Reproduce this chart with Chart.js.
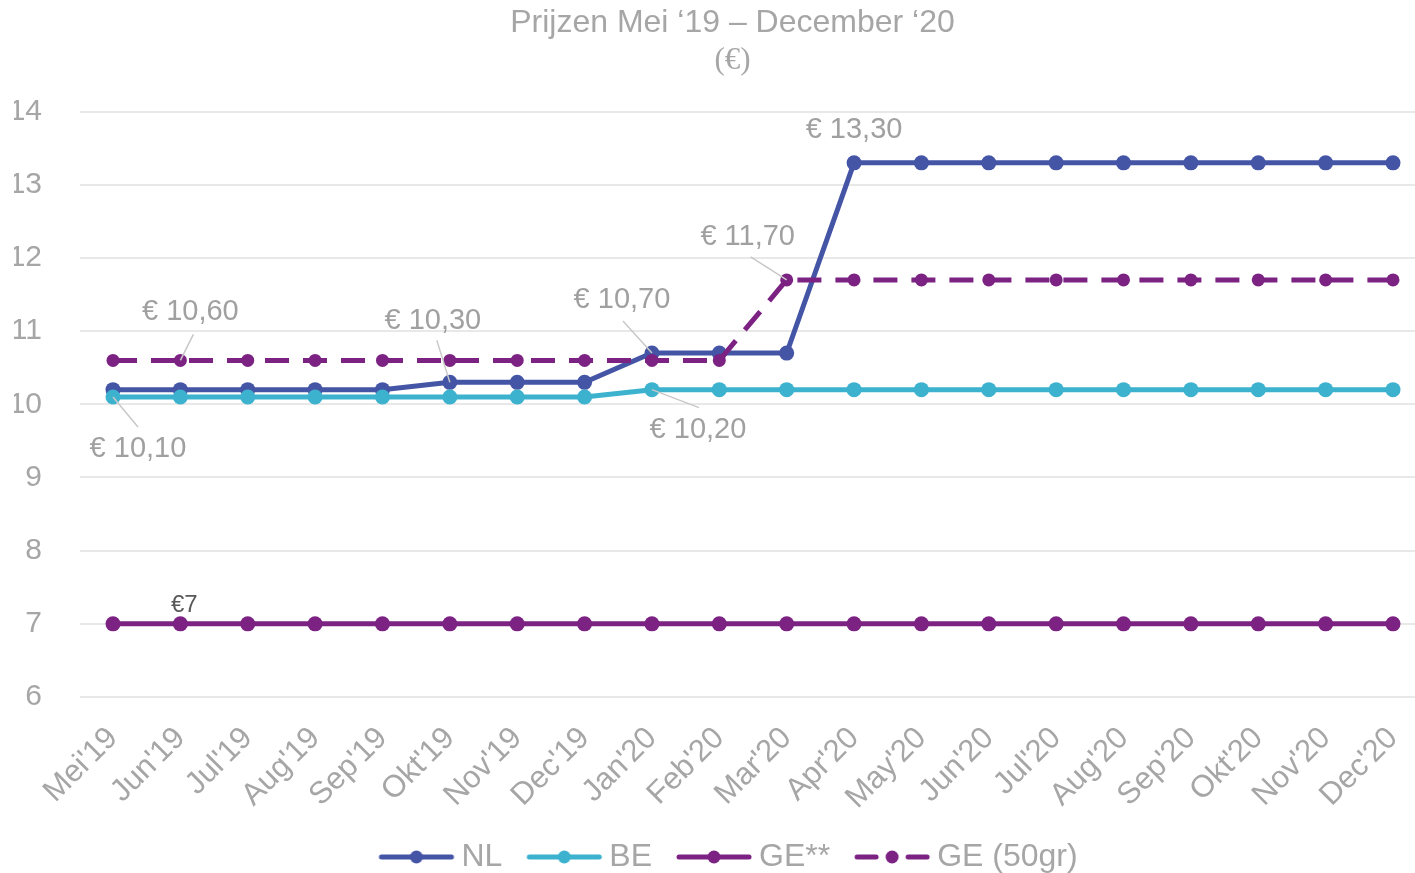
<!DOCTYPE html>
<html>
<head>
<meta charset="utf-8">
<script src="https://cdn.jsdelivr.net/npm/chart.js@4.4.1/dist/chart.umd.min.js"></script>
<style>
  html, body { margin: 0; padding: 0; background: #fff; }
  #wrap { width: 1415px; height: 873px; position: relative; }
</style>
</head>
<body>
<div id="wrap"><canvas id="priceChart"></canvas></div>
<script>
const months = ["Mei'19", "Jun'19", "Jul'19", "Aug'19", "Sep'19", "Okt'19", "Nov'19", "Dec'19",
  "Jan'20", "Feb'20", "Mar'20", "Apr'20", "May'20", "Jun'20", "Jul'20", "Aug'20",
  "Sep'20", "Okt'20", "Nov'20", "Dec'20"];
const nlPrices = [10.2, 10.2, 10.2, 10.2, 10.2, 10.3, 10.3, 10.3, 10.7, 10.7, 10.7,
  13.3, 13.3, 13.3, 13.3, 13.3, 13.3, 13.3, 13.3, 13.3];
const bePrices = [10.1, 10.1, 10.1, 10.1, 10.1, 10.1, 10.1, 10.1, 10.2, 10.2, 10.2,
  10.2, 10.2, 10.2, 10.2, 10.2, 10.2, 10.2, 10.2, 10.2];
const gePrices = [7, 7, 7, 7, 7, 7, 7, 7, 7, 7, 7, 7, 7, 7, 7, 7, 7, 7, 7, 7];
const ge50Prices = [10.6, 10.6, 10.6, 10.6, 10.6, 10.6, 10.6, 10.6, 10.6, 10.6, 11.7,
  11.7, 11.7, 11.7, 11.7, 11.7, 11.7, 11.7, 11.7, 11.7];
const yTicks = [6, 7, 8, 9, 10, 11, 12, 13, 14];

const GREY = "#a6a6a6";
const FONT = "'Liberation Sans', Arial, sans-serif";

// labels next to points: dataset index, point index, label offset, leader line end
const notes = [
  { ds: 3, i: 1, dx: 10, dy: -48, line: [13, -26] },
  { ds: 1, i: 0, dx: 25, dy: 52, line: [25, 30] },
  { ds: 0, i: 5, dx: -17, dy: -61, line: [-13, -42] },
  { ds: 0, i: 8, dx: -30, dy: -53, line: [-29, -32] },
  { ds: 1, i: 8, dx: 46, dy: 40, line: [47, 18] },
  { ds: 3, i: 10, dx: -39, dy: -43, line: [-36, -23] },
  { ds: 0, i: 11, dx: 0, dy: -33 },
  { ds: 2, i: 1, dx: 4, dy: -18, small: true },
];

const euro = (v) => "€ " + v.toFixed(2).replace(".", ",");

function legendIcon(color, dashed) {
  const c = document.createElement("canvas");
  c.width = 80; c.height = 16;
  const g = c.getContext("2d");
  g.strokeStyle = color; g.fillStyle = color;
  g.lineWidth = 5; g.lineCap = "round";
  g.beginPath();
  if (dashed) {
    g.moveTo(5, 8); g.lineTo(24, 8);
    g.moveTo(56, 8); g.lineTo(75, 8);
  } else {
    g.moveTo(5, 8); g.lineTo(75, 8);
  }
  g.stroke();
  g.beginPath(); g.arc(40, 8, 6.5, 0, Math.PI * 2); g.fill();
  return c;
}

const wideGrid = {
  id: "wideGrid",
  beforeDatasetsDraw(chart) {
    const { ctx, scales: { y } } = chart;
    ctx.save();
    ctx.strokeStyle = "#e8e8e8";
    ctx.lineWidth = 2;
    y.ticks.forEach((t) => {
      const py = Math.round(y.getPixelForValue(t.value));
      ctx.beginPath();
      ctx.moveTo(80, py);
      ctx.lineTo(chart.width, py);
      ctx.stroke();
    });
    ctx.restore();
  },
};

const pointNotes = {
  id: "pointNotes",
  afterDatasetsDraw(chart) {
    const { ctx } = chart;
    ctx.save();
    notes.forEach((n) => {
      const pt = chart.getDatasetMeta(n.ds).data[n.i];
      const v = chart.data.datasets[n.ds].data[n.i];
      if (n.line) {
        ctx.strokeStyle = "#c8c8c8";
        ctx.lineWidth = 1.5;
        ctx.beginPath();
        ctx.moveTo(pt.x, pt.y);
        ctx.lineTo(pt.x + n.line[0], pt.y + n.line[1]);
        ctx.stroke();
      }
      ctx.textAlign = "center";
      ctx.textBaseline = "middle";
      if (n.small) {
        ctx.font = "24px " + FONT;
        ctx.fillStyle = "#595959";
        ctx.fillText("€" + v, pt.x + n.dx, pt.y + n.dy);
      } else {
        ctx.font = "29px " + FONT;
        ctx.fillStyle = "#a0a0a0";
        ctx.fillText(euro(v), pt.x + n.dx, pt.y + n.dy);
      }
    });
    ctx.restore();
  },
};

const ctx = document.getElementById("priceChart").getContext("2d");
new Chart(ctx, {
  type: "line",
  data: {
    labels: months,
    datasets: [
      { label: "NL", data: nlPrices, borderColor: "#4555a6", backgroundColor: "#4555a6", order: 3 },
      { label: "BE", data: bePrices, borderColor: "#3cb2cf", backgroundColor: "#3cb2cf", order: 2 },
      { label: "GE**", data: gePrices, borderColor: "#7b2283", backgroundColor: "#7b2283", order: 1 },
      { label: "GE (50gr)", data: ge50Prices, borderColor: "#7b2283", backgroundColor: "#7b2283",
        borderDash: [24, 14], pointRadius: 6.5, order: 0 },
    ].map((d) => Object.assign({ borderWidth: 5, pointRadius: 7.5, pointBorderWidth: 0,
      tension: 0, clip: false, fill: false, yAxisID: "y" }, d)),
  },
  options: {
    responsive: true,
    maintainAspectRatio: false,
    animation: false,
    layout: { padding: { left: 14, right: -36, top: 0, bottom: -10 } },
    scales: {
      x: {
        offset: false,
        grid: { display: false },
        border: { display: false },
        afterFit: (s) => { s.height = 111; s.paddingRight = 0; },
        ticks: {
          color: GREY, font: { family: FONT, size: 31 },
          maxRotation: 45, minRotation: 45, autoSkip: false, padding: 15,
        },
      },
      y: {
        min: 6, max: 14,
        afterBuildTicks: (s) => { s.ticks = yTicks.map((v) => ({ value: v })); },
        afterFit: (s) => { s.width = 99; },
        grid: { display: false },
        border: { display: false },
        ticks: { color: GREY, font: { family: FONT, size: 30 }, padding: 63 },
      },
      // empty right-hand axis, only reserves space so title/legend centre like the original
      spacer: {
        position: "right",
        grid: { display: false },
        border: { display: false },
        ticks: { display: false },
        afterFit: (s) => { s.width = 58; },
      },
    },
    plugins: {
      title: {
        display: true,
        text: "Prijzen Mei ‘19 – December ‘20",
        color: GREY,
        font: { family: FONT, size: 32, weight: "normal" },
        padding: { top: 4, bottom: 0 },
      },
      subtitle: {
        display: true,
        text: "(€)",
        color: GREY,
        font: { family: "'Liberation Serif', 'Times New Roman', serif", size: 31 },
        padding: { top: 0, bottom: 32 },
      },
      legend: {
        position: "bottom",
        labels: {
          usePointStyle: true,
          pointStyleWidth: 58,
          padding: 33,
          color: GREY,
          font: { family: FONT, size: 32 },
          generateLabels: (chart) => chart.data.datasets.map((d, i) => ({
            text: d.label,
            pointStyle: legendIcon(d.borderColor, !!d.borderDash),
            fontColor: GREY,
            fillStyle: "transparent",
            strokeStyle: "transparent",
            lineWidth: 0,
            hidden: false,
            datasetIndex: i,
          })),
        },
      },
      tooltip: { enabled: false },
    },
  },
  plugins: [wideGrid, pointNotes],
});
</script>
</body>
</html>
